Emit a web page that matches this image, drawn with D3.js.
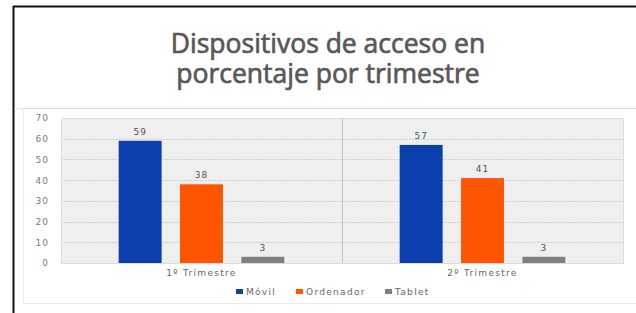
<!DOCTYPE html>
<html><head><meta charset="utf-8">
<script src="https://cdn.jsdelivr.net/npm/d3@7"></script>
<style>body{margin:0;background:#fff}svg{display:block}</style>
</head><body>
<script>
const categories = ["1º Trimestre", "2º Trimestre"];
const seriesNames = ["Móvil", "Ordenador", "Tablet"];
const movil = [59, 57];
const ordenador = [38, 41];
const tablet = [3, 3];
const yTicks = [0, 10, 20, 30, 40, 50, 60, 70];
const titleLines = ["Dispositivos de acceso en", "porcentaje por trimestre"];
const colors = ["#0b3fae", "#ff5500", "#808080"];

const seriesValues = [movil, ordenador, tablet];
const W = 636, H = 313;
const svg = d3.select("body").append("svg").attr("width", W).attr("height", H);
const smallFont = "DejaVu Sans, sans-serif";

// frame lines
svg.append("line").attr("x1", 13).attr("x2", W).attr("y1", 6.5).attr("y2", 6.5).attr("stroke", "#111").attr("stroke-width", 2);
svg.append("line").attr("x1", 13.5).attr("x2", 13.5).attr("y1", 6).attr("y2", H).attr("stroke", "#111").attr("stroke-width", 2);

// title (one text, two lines)
const title = svg.append("text")
  .attr("text-anchor", "middle")
  .attr("font-family", "Open Sans, sans-serif").attr("font-size", 26.5).attr("font-weight", 400)
  .attr("fill", "#585858").attr("stroke", "#585858").attr("stroke-width", 0.7);
title.selectAll("tspan").data(titleLines).join("tspan")
  .attr("x", 328).attr("y", (d, i) => 53 + i * 30).text(d => d);

// chart panel lines
svg.append("line").attr("x1", 14).attr("x2", W).attr("y1", 108.5).attr("y2", 108.5).attr("stroke", "#e2e2e2");
svg.append("line").attr("x1", 23).attr("x2", W).attr("y1", 303.5).attr("y2", 303.5).attr("stroke", "#ececec");
svg.append("line").attr("x1", 23.5).attr("x2", 23.5).attr("y1", 108).attr("y2", 304).attr("stroke", "#ececec");

const pLeft = 61, pRight = 623, pTop = 118, pBottom = 263;
const x = d3.scaleBand().domain(categories).range([pLeft, pRight]);
const x1 = d3.scaleBand().domain(seriesNames).range([0, x.bandwidth()]).paddingInner(0.3).paddingOuter(0.94);
const y = d3.scaleLinear().domain([0, 70]).range([pBottom, pTop]);

// plot background
svg.append("rect").attr("x", pLeft + 0.5).attr("y", pTop + 0.5).attr("width", pRight - pLeft).attr("height", pBottom - pTop)
  .attr("fill", "#efefef").attr("stroke", "#dcdcdc");

// grid
svg.append("g").selectAll("line").data(yTicks.filter(d => d > 0 && d < 70)).join("line")
  .attr("x1", pLeft).attr("x2", pRight).attr("y1", d => Math.round(y(d)) + 0.5).attr("y2", d => Math.round(y(d)) + 0.5)
  .attr("stroke", "#d2d2d2").attr("stroke-dasharray", "2,1");
// category divider
svg.append("line").attr("x1", Math.round(x(categories[1])) + 0.5).attr("x2", Math.round(x(categories[1])) + 0.5)
  .attr("y1", pTop).attr("y2", pBottom).attr("stroke", "#c4c4c4");

// y axis labels
const yAxis = d3.axisLeft(y).tickValues(yTicks).tickSize(0).tickPadding(12);
const ga = svg.append("g").attr("transform", `translate(${pLeft},0)`).call(yAxis);
ga.select(".domain").remove();
ga.selectAll("text").attr("font-family", smallFont).attr("font-size", 9).attr("letter-spacing", 1)
  .attr("fill", "#7a7a7a");

// x axis labels
const xAxis = d3.axisBottom(x).tickSize(0).tickPadding(7);
const gx = svg.append("g").attr("transform", `translate(0,${pBottom})`).call(xAxis);
gx.select(".domain").remove();
gx.selectAll("text").attr("font-family", smallFont).attr("font-size", 9).attr("letter-spacing", 1.3)
  .attr("fill", "#666");

// bars
const groups = svg.append("g").selectAll("g").data(categories).join("g")
  .attr("transform", d => `translate(${x(d)},0)`);
const cells = (c, ci) => seriesNames.map((s, si) => ({s, si, v: seriesValues[si][ci]}));
groups.selectAll("rect").data(cells).join("rect")
  .attr("x", d => x1(d.s)).attr("width", x1.bandwidth())
  .attr("y", d => y(d.v)).attr("height", d => y(0) - y(d.v))
  .attr("fill", d => colors[d.si]);
groups.selectAll("text").data(cells).join("text")
  .attr("x", d => x1(d.s) + x1.bandwidth() / 2).attr("y", d => y(d.v) - 6)
  .attr("text-anchor", "middle").attr("font-family", smallFont).attr("font-size", 9).attr("letter-spacing", 1)
  .attr("fill", "#555").text(d => d.v);

// legend
const legendX = [236, 296, 385];
const lg = svg.append("g").selectAll("g").data(seriesNames).join("g")
  .attr("transform", (d, i) => `translate(${legendX[i]},291)`);
lg.append("rect").attr("x", 0).attr("y", -2).attr("width", 7).attr("height", 5).attr("fill", (d, i) => colors[i]);
lg.append("text").attr("x", 10).attr("y", 3.5).attr("font-family", smallFont).attr("font-size", 9).attr("letter-spacing", 1.3)
  .attr("fill", "#666").text(d => d);
</script>
</body></html>
